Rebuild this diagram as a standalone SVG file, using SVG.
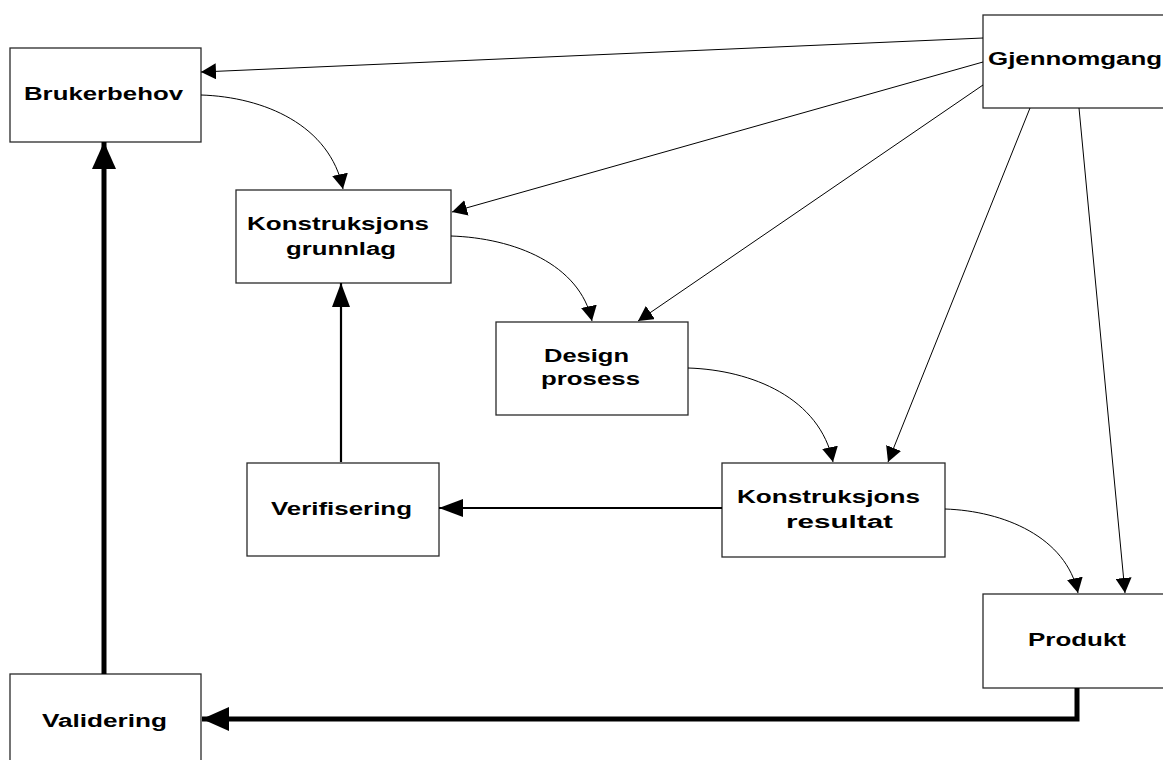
<svg xmlns="http://www.w3.org/2000/svg" width="1163" height="760" viewBox="0 0 1163 760">
<style>
.box{fill:#fff;stroke:#2a2a2a;stroke-width:1.3}
.t{font-family:"Liberation Sans",Arial,sans-serif;font-weight:bold;font-size:18px;fill:#000}
.thin{fill:none;stroke:#000;stroke-width:1}
.med{fill:none;stroke:#000;stroke-width:2.2}
.thick{fill:none;stroke:#000;stroke-width:5}
</style>
<defs>
<marker id="ah" markerUnits="userSpaceOnUse" markerWidth="16" markerHeight="16" refX="15" refY="8" orient="auto"><path d="M0,0 L15,8 L0,16 z" fill="#000"/></marker>
<marker id="am" markerUnits="userSpaceOnUse" markerWidth="24" markerHeight="18" refX="24" refY="9" orient="auto"><path d="M0,0 L24,9 L0,18 z" fill="#000"/></marker>
<marker id="ak" markerUnits="userSpaceOnUse" markerWidth="27" markerHeight="24" refX="27" refY="12" orient="auto"><path d="M0,0 L27,12 L0,24 z" fill="#000"/></marker>
</defs>
<rect width="1163" height="760" fill="#fff"/>
<g id="brukerbehov"><rect class="box" x="10" y="48" width="191" height="94"/><text class="t" x="24" y="100" textLength="159" lengthAdjust="spacingAndGlyphs">Brukerbehov</text></g>
<g id="gjennomgang"><rect class="box" x="983" y="15" width="200" height="93"/><text class="t" x="988" y="65" textLength="174" lengthAdjust="spacingAndGlyphs">Gjennomgang</text></g>
<g id="konstruksjonsgrunnlag"><rect class="box" x="236" y="190" width="215" height="93"/><text class="t" x="247" y="230" textLength="182" lengthAdjust="spacingAndGlyphs">Konstruksjons</text><text class="t" x="286" y="255" textLength="110" lengthAdjust="spacingAndGlyphs">grunnlag</text></g>
<g id="designprosess"><rect class="box" x="496" y="322" width="192" height="93"/><text class="t" x="544" y="362" textLength="85" lengthAdjust="spacingAndGlyphs">Design</text><text class="t" x="541" y="385" textLength="99" lengthAdjust="spacingAndGlyphs">prosess</text></g>
<g id="verifisering"><rect class="box" x="247" y="463" width="192" height="93"/><text class="t" x="271" y="515" textLength="141" lengthAdjust="spacingAndGlyphs">Verifisering</text></g>
<g id="konstruksjonsresultat"><rect class="box" x="722" y="463" width="223" height="94"/><text class="t" x="737" y="503" textLength="183" lengthAdjust="spacingAndGlyphs">Konstruksjons</text><text class="t" x="786" y="528" textLength="107" lengthAdjust="spacingAndGlyphs">resultat</text></g>
<g id="produkt"><rect class="box" x="983" y="594" width="200" height="94"/><text class="t" x="1028" y="646" textLength="98" lengthAdjust="spacingAndGlyphs">Produkt</text></g>
<g id="validering"><rect class="box" x="10" y="674" width="191" height="100"/><text class="t" x="42" y="727" textLength="125" lengthAdjust="spacingAndGlyphs">Validering</text></g>
<g id="connectors">
<line class="thin" x1="983" y1="38" x2="201" y2="72" marker-end="url(#ah)"/>
<line class="thin" x1="983" y1="62" x2="452" y2="212" marker-end="url(#ah)"/>
<line class="thin" x1="983" y1="85" x2="638" y2="321" marker-end="url(#ah)"/>
<line class="thin" x1="1030" y1="108" x2="888" y2="462" marker-end="url(#ah)"/>
<line class="thin" x1="1079" y1="108" x2="1125" y2="593" marker-end="url(#ah)"/>
<path class="thin" d="M201,95 C264,97 330,125 343,189" marker-end="url(#ah)"/>
<path class="thin" d="M451,236 C514,238 580,264 592,321" marker-end="url(#ah)"/>
<path class="thin" d="M688,368 C752,370 820,398 833,462" marker-end="url(#ah)"/>
<path class="thin" d="M945,509 C1004,511 1066,537 1078,593" marker-end="url(#ah)"/>
<line class="med" x1="722" y1="508" x2="439" y2="508" marker-end="url(#am)"/>
<line class="med" x1="341" y1="462" x2="341" y2="283" marker-end="url(#am)"/>
<line class="thick" x1="104" y1="674" x2="104" y2="142" marker-end="url(#ak)"/>
<polyline class="thick" points="1077,688 1077,719 202,719" marker-end="url(#ak)"/>
</g>
</svg>
